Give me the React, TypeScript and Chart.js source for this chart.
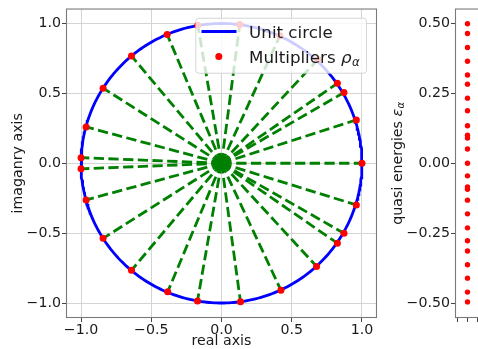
import React, { useEffect, useRef } from 'react';
import { Chart, registerables } from 'chart.js';

Chart.register(...registerables);

// Multipliers rho_alpha (real and imaginary parts)
const multipliersReal = [1.0, 0.96, 0.872, 0.825, 0.686, 0.416, 0.13, -0.169, -0.387, -0.641, -0.843, -0.964, -1.0, -1.0, -0.964, -0.843, -0.641, -0.383, -0.171, 0.135, 0.423, 0.677, 0.825, 0.872, 0.96];
const multipliersImag = [0.0, 0.31, 0.506, 0.572, 0.742, 0.913, 0.993, 0.988, 0.922, 0.768, 0.537, 0.26, 0.04, -0.04, -0.262, -0.537, -0.766, -0.92, -0.986, -0.99, -0.908, -0.738, -0.572, -0.501, -0.298];
// Quasi energies epsilon_alpha
const quasiEnergies = [0.499, 0.464, 0.414, 0.365, 0.316, 0.283, 0.233, 0.188, 0.134, 0.1, 0.09, 0.051, 0.0, -0.045, -0.085, -0.093, -0.132, -0.181, -0.231, -0.277, -0.314, -0.363, -0.411, -0.461, -0.496];
const centerPoint = { x: 0, y: 0 };
const unitTicks = [-1, -0.5, 0, 0.5, 1];
const energyTicks = [-0.5, -0.25, 0, 0.25, 0.5];
const energyXTicks = [-0.05, 0, 0.05];
const circleDegrees = Array.from({ length: 361 }, (_, i) => i);

const FONT = '"DejaVu Sans", Verdana, sans-serif';
const TICK_SIZE = 14.2;
const LABEL_SIZE = 14.2;
const LEGEND_SIZE = 16.7;
const TEXT_COLOR = '#1a1a1a';
const SPINE_COLOR = '#7a7a7a';
const GRID_COLOR = '#d4d4d4';
const TICK_COLOR = '#444444';

function fmt(v: number, d: number) {
  const s = Math.abs(v).toFixed(d);
  return (v < -1e-9 ? '\u2212' : '') + s;
}

function drawFrame(chart: any) {
  const { ctx, chartArea: a } = chart;
  ctx.save();
  ctx.strokeStyle = SPINE_COLOR;
  ctx.lineWidth = 1.1;
  ctx.strokeRect(a.left - 0.5, a.top - 0.5, a.right - a.left + 1, a.bottom - a.top + 1);
  ctx.restore();
}

function roundRectPath(ctx: CanvasRenderingContext2D, x: number, y: number, w: number, h: number, r: number) {
  ctx.beginPath();
  ctx.moveTo(x + r, y);
  ctx.lineTo(x + w - r, y);
  ctx.arcTo(x + w, y, x + w, y + r, r);
  ctx.lineTo(x + w, y + h - r);
  ctx.arcTo(x + w, y + h, x + w - r, y + h, r);
  ctx.lineTo(x + r, y + h);
  ctx.arcTo(x, y + h, x, y + h - r, r);
  ctx.lineTo(x, y + r);
  ctx.arcTo(x, y, x + r, y, r);
  ctx.closePath();
}

// Draws "prefix" + italic symbol + italic subscript alpha, starting at x (baseline y)
function drawMathLabel(ctx: CanvasRenderingContext2D, prefix: string, sym: string, sub: string, size: number, x: number, y: number, measureOnly = false) {
  ctx.font = `${size}px ${FONT}`;
  const w1 = ctx.measureText(prefix).width;
  ctx.font = `italic ${size}px ${FONT}`;
  const w2 = ctx.measureText(sym).width;
  const subSize = size * 0.7;
  ctx.font = `italic ${subSize}px ${FONT}`;
  const w3 = ctx.measureText(sub).width;
  const total = w1 + w2 + w3 + size * 0.03;
  if (measureOnly) return total;
  ctx.font = `${size}px ${FONT}`;
  ctx.fillText(prefix, x, y);
  ctx.font = `italic ${size}px ${FONT}`;
  ctx.fillText(sym, x + w1, y);
  ctx.font = `italic ${subSize}px ${FONT}`;
  ctx.fillText(sub, x + w1 + w2 + size * 0.03, y + size * 0.2);
  return total;
}

const leftPlugin = {
  id: 'leftDecor',
  afterDatasetsDraw(chart: any) {
    drawFrame(chart);
    const { ctx, chartArea: a } = chart;
    // legend
    const w = 170.7;
    const h = 55;
    const x0 = a.right - 9.5 - w;
    const y0 = a.top + 8.7;
    ctx.save();
    roundRectPath(ctx, x0, y0, w, h, 3);
    ctx.fillStyle = 'rgba(255,255,255,0.8)';
    ctx.fill();
    ctx.strokeStyle = 'rgba(204,204,204,0.8)';
    ctx.lineWidth = 1;
    ctx.stroke();
    ctx.strokeStyle = '#0000ff';
    ctx.lineWidth = 2.8;
    ctx.beginPath();
    ctx.moveTo(x0 + 5.7, y0 + 13.3);
    ctx.lineTo(x0 + 40.7, y0 + 13.3);
    ctx.stroke();
    ctx.fillStyle = '#ff0000';
    ctx.beginPath();
    ctx.arc(x0 + 23, y0 + 38.3, 3.5, 0, Math.PI * 2);
    ctx.fill();
    ctx.fillStyle = TEXT_COLOR;
    ctx.textBaseline = 'alphabetic';
    ctx.textAlign = 'left';
    ctx.font = `${LEGEND_SIZE}px ${FONT}`;
    ctx.fillText('Unit circle', x0 + 53.3, y0 + 19.5);
    drawMathLabel(ctx, 'Multipliers ', '\u03c1', '\u03b1', LEGEND_SIZE, x0 + 53.3, y0 + 44.5);

    // axis titles
    ctx.font = `${LABEL_SIZE}px ${FONT}`;
    ctx.textAlign = 'center';
    ctx.textBaseline = 'middle';
    ctx.fillText('real axis', (a.left + a.right) / 2, 341.5);
    ctx.translate(18, (a.top + a.bottom) / 2);
    ctx.rotate(-Math.PI / 2);
    ctx.fillText('imaganry axis', 0, 0);
    ctx.restore();
  },
};

const rightPlugin = {
  id: 'rightDecor',
  afterDatasetsDraw(chart: any) {
    drawFrame(chart);
    const { ctx, chartArea: a } = chart;
    ctx.save();
    ctx.fillStyle = TEXT_COLOR;
    ctx.textAlign = 'left';
    ctx.textBaseline = 'middle';
    const total = drawMathLabel(ctx, 'quasi energies ', '\u03b5', '\u03b1', LABEL_SIZE, 0, 0, true) as number;
    ctx.translate(18.5, (a.top + a.bottom) / 2);
    ctx.rotate(-Math.PI / 2);
    drawMathLabel(ctx, 'quasi energies ', '\u03b5', '\u03b1', LABEL_SIZE, -total / 2, 0);
    ctx.restore();
  },
};

const tickFont = { family: FONT, size: TICK_SIZE };

function makeLeftConfig(): any {
  const spokes = multipliersReal.map((re, i) => ({
    label: 'spoke' + i,
    data: [centerPoint, { x: re, y: multipliersImag[i] }],
    showLine: true,
    borderColor: '#008000',
    borderWidth: 2.8,
    borderDash: [10.3, 4.4],
    pointRadius: 0,
    fill: false,
    order: 2,
  }));
  return {
    type: 'scatter',
    data: {
      datasets: [
        {
          label: 'Multipliers',
          data: multipliersReal.map((re, i) => ({ x: re, y: multipliersImag[i] })),
          backgroundColor: '#ff0000',
          borderWidth: 0,
          pointRadius: 3.5,
          order: 0,
        },
        {
          label: 'center',
          data: [centerPoint],
          backgroundColor: '#008000',
          borderWidth: 0,
          pointRadius: 8,
          order: 1,
        },
        ...spokes,
        {
          label: 'Unit circle',
          data: circleDegrees.map((d) => ({ x: Math.cos((d * Math.PI) / 180), y: Math.sin((d * Math.PI) / 180) })),
          showLine: true,
          borderColor: '#0000ff',
          borderWidth: 2.8,
          pointRadius: 0,
          fill: false,
          order: 3,
        },
      ],
    },
    options: {
      responsive: false,
      maintainAspectRatio: false,
      animation: false,
      events: [],
      layout: { padding: { left: 0, top: 7, right: 14, bottom: 0 } },
      plugins: { legend: { display: false }, tooltip: { enabled: false } },
      scales: {
        x: {
          type: 'linear',
          min: -1.1,
          max: 1.1,
          afterBuildTicks: (s: any) => { s.ticks = unitTicks.map((v) => ({ value: v })); },
          afterFit: (s: any) => { s.height = 32; },
          border: { display: false },
          grid: { color: GRID_COLOR, tickColor: TICK_COLOR, tickLength: 5, lineWidth: 1 },
          ticks: { font: tickFont, color: TEXT_COLOR, padding: 0, maxRotation: 0, autoSkip: false, callback: (v: number) => fmt(v, 1) },
        },
        y: {
          type: 'linear',
          min: -1.1,
          max: 1.1,
          afterBuildTicks: (s: any) => { s.ticks = unitTicks.map((v) => ({ value: v })); },
          afterFit: (s: any) => { s.width = 67; },
          border: { display: false },
          grid: { color: GRID_COLOR, tickColor: TICK_COLOR, tickLength: 5, lineWidth: 1 },
          ticks: { font: tickFont, color: TEXT_COLOR, padding: 1, autoSkip: false, callback: (v: number) => fmt(v, 1) },
        },
      },
    },
    plugins: [leftPlugin],
  };
}

function makeRightConfig(): any {
  return {
    type: 'scatter',
    data: {
      datasets: [
        {
          label: 'quasi energies',
          data: quasiEnergies.map((e) => ({ x: 0, y: e })),
          backgroundColor: '#ff0000',
          borderWidth: 0,
          pointRadius: 2.7,
        },
      ],
    },
    options: {
      responsive: false,
      maintainAspectRatio: false,
      animation: false,
      events: [],
      layout: { padding: { left: 0, top: 7, right: 11, bottom: 0 } },
      plugins: { legend: { display: false }, tooltip: { enabled: false } },
      scales: {
        x: {
          type: 'linear',
          min: -0.055,
          max: 0.055,
          afterBuildTicks: (s: any) => { s.ticks = energyXTicks.map((v) => ({ value: v })); },
          afterFit: (s: any) => { s.height = 32; },
          border: { display: false },
          grid: { drawOnChartArea: false, tickColor: TICK_COLOR, tickLength: 5, lineWidth: 1 },
          ticks: { font: tickFont, color: TEXT_COLOR, padding: 0, maxRotation: 0, autoSkip: false, callback: () => '' },
        },
        y: {
          type: 'linear',
          min: -0.55,
          max: 0.55,
          afterBuildTicks: (s: any) => { s.ticks = energyTicks.map((v) => ({ value: v })); },
          afterFit: (s: any) => { s.width = 76; },
          border: { display: false },
          grid: { drawOnChartArea: false, tickColor: TICK_COLOR, tickLength: 5, lineWidth: 1 },
          ticks: { font: tickFont, color: TEXT_COLOR, padding: 1, autoSkip: false, callback: (v: number) => fmt(v, 2) },
        },
      },
    },
    plugins: [rightPlugin],
  };
}

export default function App() {
  const leftRef = useRef<HTMLCanvasElement>(null);
  const rightRef = useRef<HTMLCanvasElement>(null);
  useEffect(() => {
    const c1 = new Chart(leftRef.current as HTMLCanvasElement, makeLeftConfig());
    const c2 = new Chart(rightRef.current as HTMLCanvasElement, makeRightConfig());
    return () => {
      c1.destroy();
      c2.destroy();
    };
  }, []);
  return (
    <div style={{ position: 'fixed', left: 0, top: 0, width: 478, height: 349, overflow: 'hidden', background: '#ffffff' }}>
      <canvas ref={leftRef} width={390} height={349} style={{ position: 'absolute', left: 0, top: 0, width: 390, height: 349 }} />
      <canvas ref={rightRef} width={110} height={349} style={{ position: 'absolute', left: 380, top: 0, width: 110, height: 349 }} />
    </div>
  );
}
